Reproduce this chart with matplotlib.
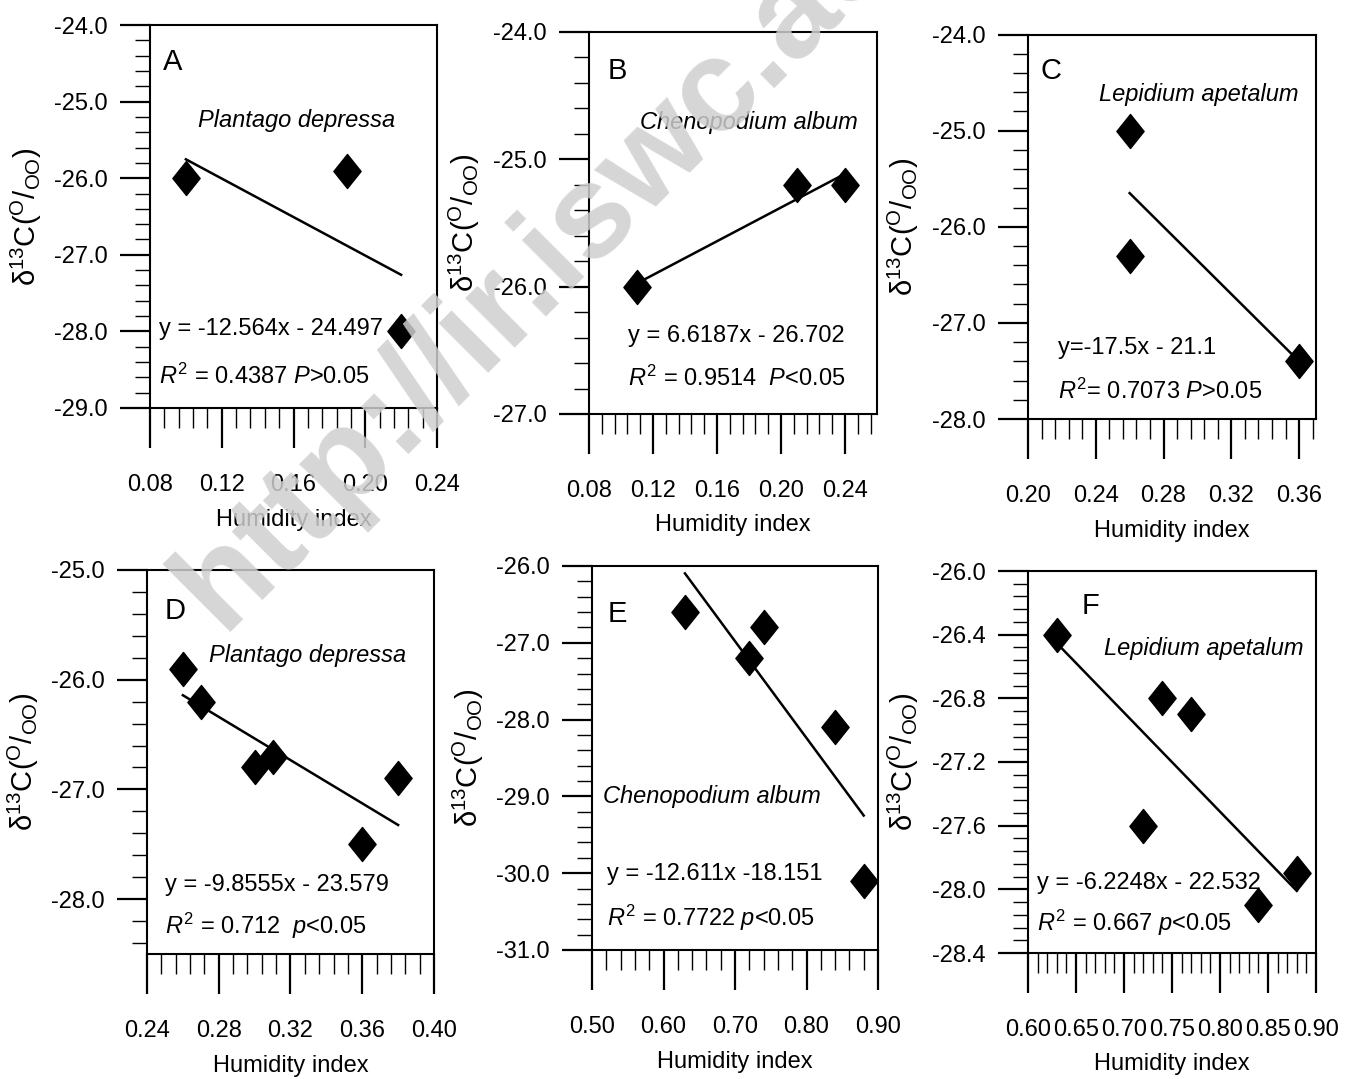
import numpy as np
import matplotlib
matplotlib.use("Agg")
import matplotlib.pyplot as plt
from matplotlib.ticker import MultipleLocator, FormatStrFormatter
from matplotlib.path import Path

plt.rcParams['font.family'] = ['Liberation Sans', 'DejaVu Sans']
plt.rcParams['mathtext.fontset'] = 'custom'
plt.rcParams['mathtext.rm'] = 'Liberation Sans'
plt.rcParams['mathtext.it'] = 'Liberation Sans:italic'
plt.rcParams['mathtext.bf'] = 'Liberation Sans:bold'

# ---------------- data ----------------
panel_letters = ["A", "B", "C", "D", "E", "F"]
species = ["Plantago depressa", "Chenopodium album", "Lepidium apetalum",
           "Plantago depressa", "Chenopodium album", "Lepidium apetalum"]

x_A = [0.10, 0.19, 0.22]
y_A = [-26.0, -25.9, -28.0]
x_B = [0.11, 0.21, 0.24]
y_B = [-26.0, -25.2, -25.2]
x_C = [0.26, 0.26, 0.36]
y_C = [-25.0, -26.3, -27.4]
x_D = [0.26, 0.27, 0.30, 0.31, 0.36, 0.38]
y_D = [-25.9, -26.2, -26.8, -26.7, -27.5, -26.9]
x_E = [0.63, 0.72, 0.74, 0.84, 0.88]
y_E = [-26.6, -27.2, -26.8, -28.1, -30.1]
x_F = [0.63, 0.72, 0.74, 0.77, 0.84, 0.88]
y_F = [-26.4, -27.6, -26.8, -26.9, -28.1, -27.9]

# regression lines: slope, intercept, x-range of the drawn line
slopes = [-12.564, 6.6187, -17.5, -9.8555, -12.611, -6.2248]
intercepts = [-24.497, -26.702, -21.1, -23.579, -18.151, -22.532]
line_x0 = [0.10, 0.11, 0.26, 0.26, 0.63, 0.63]
line_x1 = [0.22, 0.24, 0.36, 0.38, 0.88, 0.88]

eq_texts = ["y = -12.564x - 24.497", "y = 6.6187x - 26.702", "y=-17.5x - 21.1",
            "y = -9.8555x - 23.579", "y = -12.611x -18.151", "y = -6.2248x - 22.532"]
r2_texts = [r"$\mathit{R}^{\mathrm{2}}$ = 0.4387 $\mathit{P}$>0.05",
            r"$\mathit{R}^{\mathrm{2}}$ = 0.9514  $\mathit{P}$<0.05",
            r"$\mathit{R}^{\mathrm{2}}$= 0.7073 $\mathit{P}$>0.05",
            r"$\mathit{R}^{\mathrm{2}}$ = 0.712  $\mathit{p}$<0.05",
            r"$\mathit{R}^{\mathrm{2}}$ = 0.7722 $\mathit{p}$<0.05",
            r"$\mathit{R}^{\mathrm{2}}$ = 0.667 $\mathit{p}$<0.05"]

xlims = [(0.08, 0.24), (0.08, 0.26), (0.20, 0.37), (0.24, 0.40), (0.50, 0.90), (0.60, 0.90)]
ylims = [(-29.0, -24.0), (-27.0, -24.0), (-28.0, -24.0), (-28.5, -25.0), (-31.0, -26.0), (-28.4, -26.0)]
x_major = [0.04, 0.04, 0.04, 0.04, 0.10, 0.05]
y_major = [1.0, 1.0, 1.0, 1.0, 1.0, 0.4]

xlabel = "Humidity index"
ylabel = "δ$^{\\mathrm{13}}$C($^{\\mathrm{O}}$/$_{\\mathrm{OO}}$)"
watermark = "http://ir.iswc.ac.cn"

xs = [x_A, x_B, x_C, x_D, x_E, x_F]
ys = [y_A, y_B, y_C, y_D, y_E, y_F]

# ---------------- layout ----------------
W, H = 1353, 1079
boxes_px = [(150, 437, 25, 408), (589, 877, 32, 414), (1028, 1316, 34.5, 419),
            (147, 434, 570, 954), (592, 878, 566, 950), (1028, 1316, 571, 953)]
letter_pos = [(0.045, 0.94), (0.063, 0.935), (0.042, 0.942),
              (0.063, 0.93), (0.056, 0.911), (0.186, 0.945)]
species_pos = [(0.51, 0.75), (0.556, 0.764), (0.594, 0.843),
               (0.56, 0.777), (0.42, 0.40), (0.61, 0.797)]
eq_pos = [(0.031, 0.206), (0.135, 0.204), (0.104, 0.185),
          (0.063, 0.18), (0.052, 0.197), (0.03, 0.183)]
r2_pos = [(0.031, 0.084), (0.135, 0.094), (0.104, 0.073),
          (0.063, 0.073), (0.052, 0.084), (0.03, 0.079)]

diamond = Path([(0, 1), (0.8, 0), (0, -1), (-0.8, 0), (0, 1)],
               [Path.MOVETO, Path.LINETO, Path.LINETO, Path.LINETO, Path.CLOSEPOLY])

fig = plt.figure(figsize=(W / 100, H / 100), dpi=100)

FS = 17
for i in range(6):
    l, r, t, b = boxes_px[i]
    ax = fig.add_axes([l / W, 1 - b / H, (r - l) / W, (b - t) / H])
    ax.set_xlim(*xlims[i])
    ax.set_ylim(*ylims[i])
    ax.xaxis.set_major_locator(MultipleLocator(x_major[i]))
    ax.xaxis.set_minor_locator(MultipleLocator(x_major[i] / 5))
    ax.yaxis.set_major_locator(MultipleLocator(y_major[i]))
    ax.yaxis.set_minor_locator(MultipleLocator(y_major[i] / 5))
    ax.xaxis.set_major_formatter(FormatStrFormatter('%.2f'))
    ax.yaxis.set_major_formatter(FormatStrFormatter('%.1f'))
    for s in ax.spines.values():
        s.set_linewidth(1.5)
    ax.tick_params(axis='x', which='major', direction='out', length=28.8, width=1.6,
                   pad=19, labelsize=FS, top=False)
    ax.tick_params(axis='x', which='minor', direction='out', length=14.4, width=1.0, top=False)
    ax.tick_params(axis='y', which='major', direction='out', length=21.6, width=1.6,
                   pad=9, labelsize=FS, right=False)
    ax.tick_params(axis='y', which='minor', direction='out', length=10.8, width=1.0, right=False)

    ax.plot(xs[i], ys[i], linestyle='none', marker=diamond, markersize=24.5,
            color='black', clip_on=False, zorder=3)
    lx = np.array([line_x0[i], line_x1[i]])
    ax.plot(lx, slopes[i] * lx + intercepts[i], color='black', lw=1.8, zorder=2)

    ax.text(*letter_pos[i], panel_letters[i], transform=ax.transAxes, fontsize=21,
            ha='left', va='top')
    ax.text(*species_pos[i], species[i], transform=ax.transAxes, fontsize=FS,
            style='italic', ha='center', va='center')
    ax.text(*eq_pos[i], eq_texts[i], transform=ax.transAxes, fontsize=FS,
            ha='left', va='center')
    ax.text(*r2_pos[i], r2_texts[i], transform=ax.transAxes, fontsize=FS,
            ha='left', va='center')

    ax.set_xlabel(xlabel, fontsize=FS)
    ax.xaxis.set_label_coords(0.5, -0.263)
    ax.set_ylabel(ylabel, fontsize=21)
    ax.yaxis.set_label_coords(-0.37, 0.5)

fig.text(222 / W, 1 - 632 / H, watermark, fontsize=95, fontweight='bold',
         color='#cfcfcf', alpha=0.85, rotation=45, rotation_mode='anchor',
         ha='left', va='baseline', zorder=10)

fig.savefig("out.png", dpi=100)
